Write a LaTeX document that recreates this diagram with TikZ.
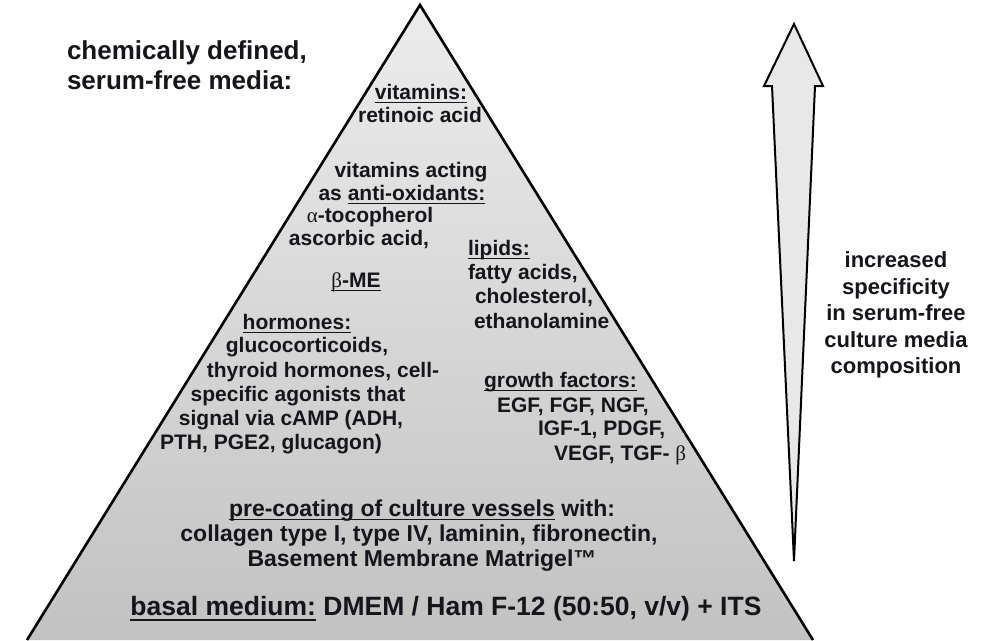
\documentclass[tikz,border=0pt]{standalone}
\usepackage{fontspec}
\setmainfont{Liberation Sans}
\newfontfamily\grk{Liberation Serif}
\newcommand\ulx[1]{\begingroup\setbox0=\hbox{#1}\rlap{\rule[-4.4pt]{\wd0}{1.9pt}}\box0\endgroup}
\newcommand\ulbig[1]{\begingroup\setbox0=\hbox{#1}\rlap{\rule[-6.4pt]{\wd0}{2.5pt}}\box0\endgroup}
\definecolor{ink}{HTML}{15151C}
\definecolor{toppyr}{HTML}{ECECEC}
\definecolor{botpyr}{HTML}{C2C2C2}
\definecolor{arrowfill}{HTML}{E8E8E8}
\tikzset{
  every node/.style={inner sep=0pt, outer sep=0pt, text=ink},
  tsmall/.style={font=\bfseries\fontsize{21}{24}\selectfont, anchor=base},
  tsmallw/.style={tsmall, anchor=base west},
  tmid/.style={font=\bfseries\fontsize{23}{26}\selectfont, anchor=base},
  tbig/.style={font=\bfseries\fontsize{26.5}{30}\selectfont, anchor=base},
  ttitle/.style={font=\bfseries\fontsize{26}{30}\selectfont, anchor=base west},
  tside/.style={font=\bfseries\fontsize{22}{26.5}\selectfont, anchor=base},
  outline/.style={draw=black, line width=2.6pt, line join=miter},
}
\begin{document}
\begin{tikzpicture}[x=1pt,y=-1pt]
\useasboundingbox (0,0) rectangle (996,640);
% pyramid
\coordinate (apex) at (420,5);
\coordinate (bl) at (27,640);
\coordinate (br) at (813,640);
\shade[top color=toppyr, bottom color=botpyr] (apex) -- (bl) -- (br) -- cycle;
\draw[outline] (bl) -- (apex) -- (br);
% arrow
\coordinate (atip) at (794,24);
\coordinate (ahr) at (823,86);
\coordinate (asr) at (815,86);
\coordinate (abot) at (794,561);
\coordinate (asl) at (772,86);
\coordinate (ahl) at (764,86);
\filldraw[fill=arrowfill, draw=black, line width=2pt, line join=miter]
  (atip) -- (ahr) -- (asr) -- (abot) -- (asl) -- (ahl) -- cycle;
% title
\node[ttitle] (t1) at (67,59) {chemically defined,};
\node[ttitle] (t2) at (67,89) {serum-free media:};
% side text
\node[tside] (s1) at (896,267) {increased};
\node[tside] (s2) at (896,294) {specificity};
\node[tside] (s3) at (896,320) {in serum-free};
\node[tside] (s4) at (896,347) {culture media};
\node[tside] (s5) at (896,373) {composition};
% vitamins
\node[tsmall] (v1) at (421,99) {\ulx{vitamins:}};
\node[tsmall] (v2) at (420,122) {retinoic acid};
% antioxidants
\node[tsmall] (a1) at (411,177) {vitamins acting};
\node[tsmall] (a2) at (402,200) {as \ulx{anti-oxidants:}};
\node[tsmall] (a3) at (370,222) {{\grk\mdseries α}-tocopherol};
\node[tsmall] (a4) at (359,245) {ascorbic acid,};
\node[tsmall] (b1) at (356,287) {\ulx{{\grk\mdseries β}-ME}};
% lipids
\node[tsmallw] (l1) at (468,255) {\ulx{lipids:}};
\node[tsmallw] (l2) at (468,279) {fatty acids,};
\node[tsmallw] (l3) at (475,303) {cholesterol,};
\node[tsmallw] (l4) at (474,328) {ethanolamine};
% hormones
\node[tsmall] (h1) at (297,329) {\ulx{hormones:}};
\node[tsmall] (h2) at (307,352) {glucocorticoids,};
\node[tsmall] (h3) at (323,377) {thyroid hormones, cell-};
\node[tsmall] (h4) at (298,401) {specific agonists that};
\node[tsmall] (h5) at (291,425) {signal via cAMP (ADH,};
\node[tsmall] (h6) at (271,449) {PTH, PGE2, glucagon)};
% growth factors
\node[tsmallw] (g1) at (484,387) {\ulx{growth factors:}};
\node[tsmallw] (g2) at (497,412) {EGF, FGF, NGF,};
\node[tsmallw] (g3) at (538,435) {IGF-1, PDGF,};
\node[tsmallw] (g4) at (554,460) {VEGF, TGF- {\grk\mdseries β}};
% pre-coating
\node[tmid] (p1) at (422,516) {\ulx{pre-coating of culture vessels} with:};
\node[tmid] (p2) at (419,541) {collagen type I, type IV, laminin, fibronectin,};
\node[tmid] (p3) at (422,566) {Basement Membrane Matrigel™};
% basal
\node[tbig] (m1) at (446,615) {\ulbig{basal medium:} DMEM / Ham F-12 (50:50, v/v) + ITS};
\end{tikzpicture}
\end{document}
